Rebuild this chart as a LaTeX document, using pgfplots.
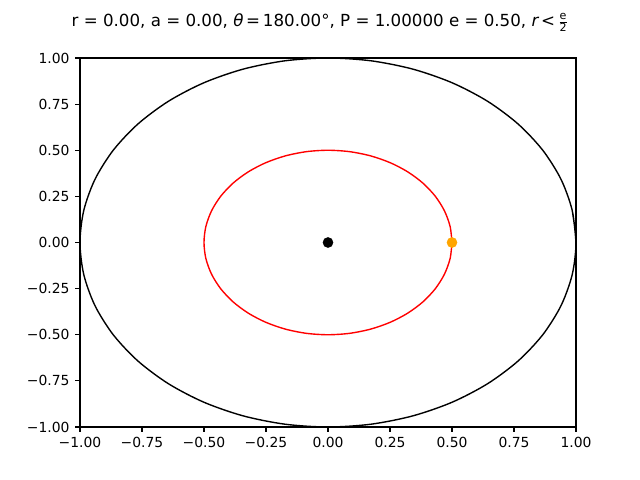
\documentclass[border=0pt]{standalone}
\usepackage{pgfplots}
\pgfplotsset{compat=1.18}
\usepackage{fontspec}
\setmainfont{DejaVu Sans}
\definecolor{mplorange}{HTML}{FFA500}
\begin{document}
\begin{tikzpicture}
\path[use as bounding box] (-57.6pt,-38.16pt) rectangle (403.2pt,307.44pt);
\begin{axis}[
  name=ax,
  at={(0,0)}, anchor=south west,
  scale only axis, width=357.12pt, height=265.68pt,
  xmin=-1, xmax=1, ymin=-1, ymax=1,
  axis line style={line width=0.8pt},
  tick style={line width=0.8pt, black},
  tick align=outside, major tick length=3.5pt,
  xtick pos=lower, ytick pos=left,
  xtick={-1,-0.75,-0.5,-0.25,0,0.25,0.5,0.75,1},
  ytick={-1,-0.75,-0.5,-0.25,0,0.25,0.5,0.75,1},
  xticklabels={−1.00,−0.75,−0.50,−0.25,0.00,0.25,0.50,0.75,1.00},
  yticklabels={−1.00,−0.75,−0.50,−0.25,0.00,0.25,0.50,0.75,1.00},
  ticklabel style={font=\fontsize{10}{12}\selectfont},
  xticklabel style={yshift=-0.5pt},
  yticklabel style={xshift=-0.5pt},
  clip=true,
]
\addplot[black, line width=1pt, smooth] coordinates {
(1.0000,0.0000) (0.9848,0.1736) (0.9397,0.3420) (0.8660,0.5000) (0.7660,0.6428) (0.6428,0.7660)
(0.5000,0.8660) (0.3420,0.9397) (0.1736,0.9848) (0.0000,1.0000) (-0.1736,0.9848) (-0.3420,0.9397)
(-0.5000,0.8660) (-0.6428,0.7660) (-0.7660,0.6428) (-0.8660,0.5000) (-0.9397,0.3420) (-0.9848,0.1736)
(-1.0000,0.0000) (-0.9848,-0.1736) (-0.9397,-0.3420) (-0.8660,-0.5000) (-0.7660,-0.6428) (-0.6428,-0.7660)
(-0.5000,-0.8660) (-0.3420,-0.9397) (-0.1736,-0.9848) (0.0000,-1.0000) (0.1736,-0.9848) (0.3420,-0.9397)
(0.5000,-0.8660) (0.6428,-0.7660) (0.7660,-0.6428) (0.8660,-0.5000) (0.9397,-0.3420) (0.9848,-0.1736)
(1.0000,0.0000) (0.9848,0.1736)
};
\addplot[red, line width=1pt, smooth] coordinates {
(0.5000,0.0000) (0.4924,0.0868) (0.4698,0.1710) (0.4330,0.2500) (0.3830,0.3214) (0.3214,0.3830)
(0.2500,0.4330) (0.1710,0.4698) (0.0868,0.4924) (0.0000,0.5000) (-0.0868,0.4924) (-0.1710,0.4698)
(-0.2500,0.4330) (-0.3214,0.3830) (-0.3830,0.3214) (-0.4330,0.2500) (-0.4698,0.1710) (-0.4924,0.0868)
(-0.5000,0.0000) (-0.4924,-0.0868) (-0.4698,-0.1710) (-0.4330,-0.2500) (-0.3830,-0.3214) (-0.3214,-0.3830)
(-0.2500,-0.4330) (-0.1710,-0.4698) (-0.0868,-0.4924) (0.0000,-0.5000) (0.0868,-0.4924) (0.1710,-0.4698)
(0.2500,-0.4330) (0.3214,-0.3830) (0.3830,-0.3214) (0.4330,-0.2500) (0.4698,-0.1710) (0.4924,-0.0868)
(0.5000,0.0000)
};
\addplot[only marks, mark=*, mark size=3.6pt, black, mark options={draw=black, fill=black}] coordinates {(0,0)};
\addplot[only marks, mark=*, mark size=3.6pt, mark options={draw=mplorange, fill=mplorange}] coordinates {(0.5,0)};
\end{axis}
\node[font=\fontsize{12}{14}\selectfont, anchor=base, inner sep=0pt] at ([yshift=23pt,xshift=-5.76pt]ax.north)
  {r = 0.00, a = 0.00, {\itshape θ}\,=\,180.00°, P = 1.00000 e = 0.50, {\itshape r}\,<\,$\frac{\mbox{\fontsize{8}{8}\selectfont e}}{\mbox{\fontsize{8}{8}\selectfont 2}}$};
\end{tikzpicture}
\end{document}
